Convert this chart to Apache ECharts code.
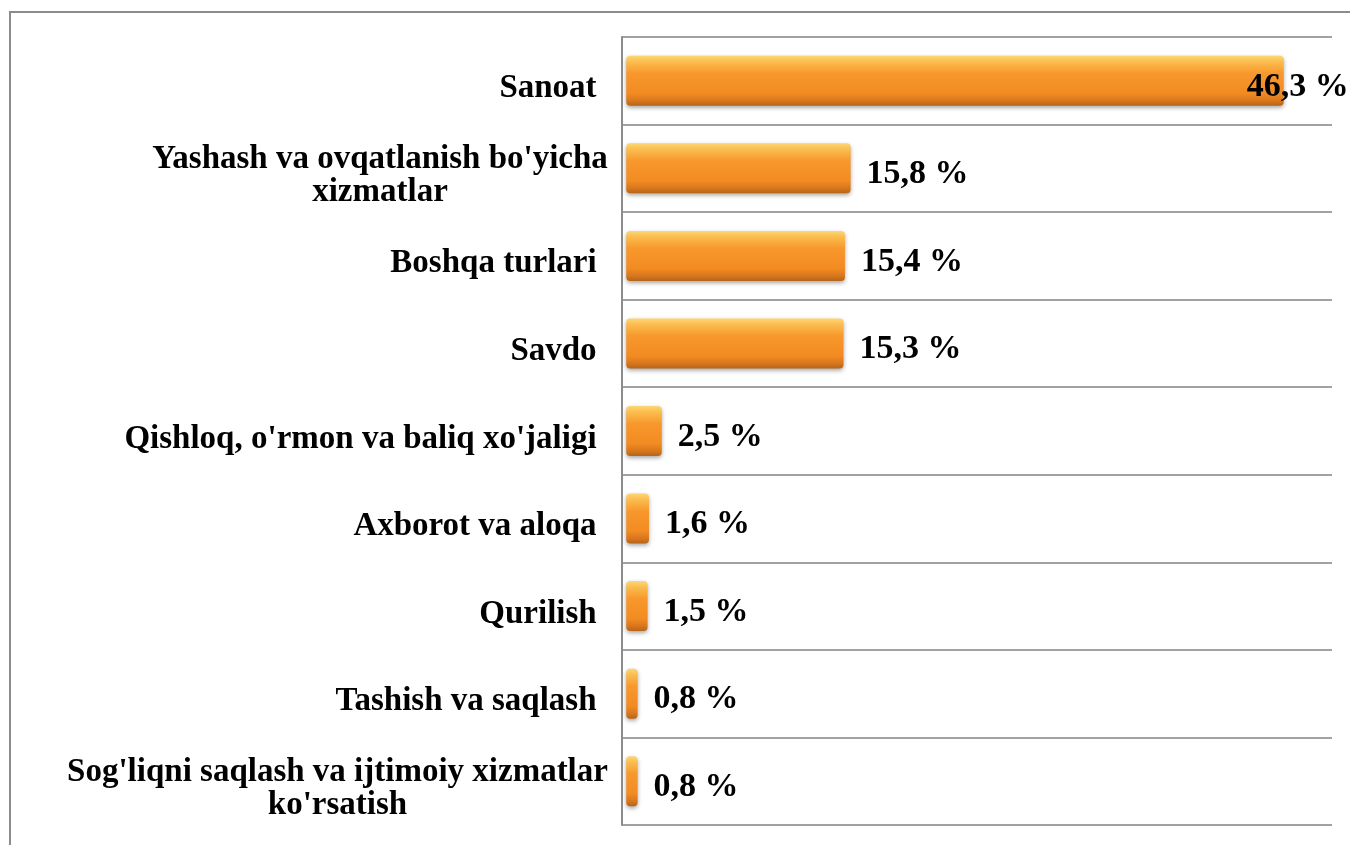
<!DOCTYPE html>
<html>
<head>
<meta charset="utf-8">
<script src="https://cdn.jsdelivr.net/npm/echarts@6/dist/echarts.min.js"></script>
<style>
  html, body { margin: 0; padding: 0; background: #fff; }
  #EChart1 { width: 1350px; height: 845px; }
</style>
</head>
<body>
<div id="EChart1"></div>
<script>
// sohalar (yuqoridan pastga)
let categories = [
  "Sanoat",
  "Yashash va ovqatlanish bo'yicha\nxizmatlar",
  "Boshqa turlari",
  "Savdo",
  "Qishloq, o'rmon va baliq xo'jaligi",
  "Axborot va aloqa",
  "Qurilish",
  "Tashish va saqlash",
  "Sog'liqni saqlash va ijtimoiy xizmatlar\nko'rsatish"
]
let shares = [46.3, 15.8, 15.4, 15.3, 2.5, 1.6, 1.5, 0.8, 0.8]

let catFont = 'bold 33px "Liberation Serif"'
let ctx = document.createElement('canvas').getContext('2d')
ctx.font = catFont

// ikki qatorli nomlar: qatorlar markazda, blok biroz o'ngga chiqadi
let rich = {}
categories.forEach((c, i) => {
  let lines = c.split('\n')
  let w = Math.max(...lines.map(s => ctx.measureText(s).width))
  rich['r' + i] = { width: lines.length > 1 ? Math.ceil(w) - 22 : Math.ceil(w), align: 'center',
    fontSize: 33, fontWeight: 'bold', fontFamily: 'Liberation Serif', color: '#000', lineHeight: 33 }
})

let EChart = echarts.init(document.getElementById("EChart1"))
let maxShare = Math.max(...shares)
let option = {
  backgroundColor: '#fff',
  animation: false,
  graphic: [{
    type: 'rect',
    shape: { x: 10, y: 12, width: 1400, height: 900 },
    style: { fill: 'none', stroke: '#8c8c8c', lineWidth: 2 }
  }],
  grid: { left: 622, right: 18, top: 37, bottom: 20 },
  xAxis: {
    type: 'value',
    min: -0.3,
    max: 49.7,
    axisLabel: { show: false },
    axisLine: { show: false },
    axisTick: { show: false },
    splitLine: { show: false }
  },
  yAxis: {
    type: 'category',
    inverse: true,
    data: categories,
    axisLine: { show: true, onZero: false, lineStyle: { color: '#8c8c8c', width: 2 } },
    axisTick: { show: false },
    splitLine: { show: true, lineStyle: { color: '#a2a2a2', width: 2 } },
    axisLabel: {
      margin: 25,
      padding: [16, 0, 0, 0],
      formatter: (v, i) => v.split('\n').map(s => '{r' + i + '|' + s + '}').join('\n'),
      rich: rich
    }
  },
  series: [{
    type: 'bar',
    barWidth: 50,
    data: shares.map(v => ({
      value: v,
      label: v === maxShare ? { offset: [-53, 6] } : {}
    })),
    itemStyle: {
      borderRadius: 4,
      color: new echarts.graphic.LinearGradient(0, 0, 0, 1, [
        { offset: 0, color: '#fcd774' },
        { offset: 0.12, color: '#fbbd4f' },
        { offset: 0.35, color: '#f8982c' },
        { offset: 0.75, color: '#f28b22' },
        { offset: 0.9, color: '#d8761d' },
        { offset: 1, color: '#b56419' }
      ]),
      shadowColor: 'rgba(0,0,0,0.35)',
      shadowBlur: 4,
      shadowOffsetY: 2
    },
    label: {
      show: true,
      position: 'right',
      distance: 16,
      offset: [0, 6],
      fontFamily: 'Liberation Serif',
      fontWeight: 'bold',
      fontSize: 34,
      color: '#000',
      formatter: p => p.value.toFixed(1).replace('.', ',') + ' %'
    }
  }]
}
EChart.setOption(option)
</script>
</body>
</html>
